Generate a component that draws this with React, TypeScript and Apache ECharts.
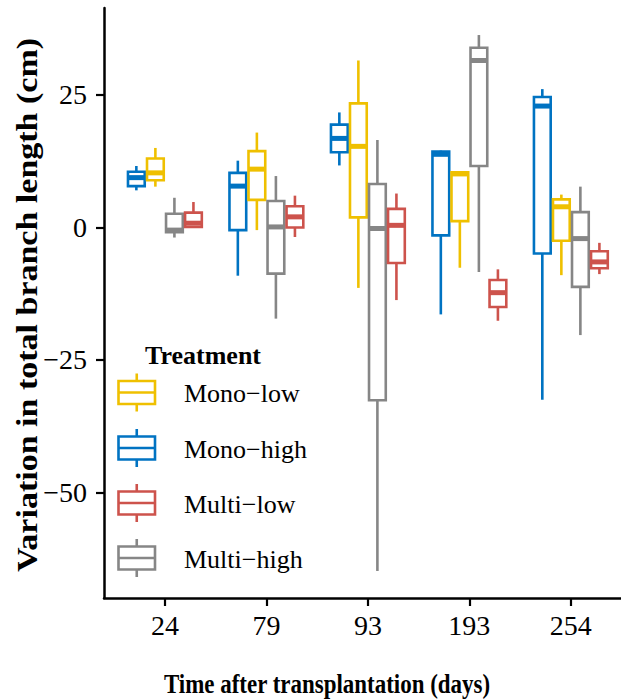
import React, { useEffect, useRef } from "react";
import * as echarts from "echarts";

// Categories (days after transplantation)
const days = ["24", "79", "93", "193", "254"];
const yTicks = [-50, -25, 0, 25];

// Box stats per treatment: [min, Q1, median, Q3, max] for each day
const monoHigh = [
  [7.0, 7.8, 9.4, 10.5, 11.6],
  [-9.1, -0.5, 7.8, 10.3, 12.6],
  [11.7, 14.2, 16.8, 19.4, 21.7],
  [-16.4, -1.5, 13.8, 14.3, 14.5],
  [-32.5, -4.9, 22.9, 24.6, 26.1],
];
const monoLow = [
  [7.7, 8.9, 10.3, 13.0, 15.0],
  [-0.5, 5.2, 11.0, 14.4, 17.9],
  [-11.4, 1.9, 15.3, 23.4, 31.5],
  [-7.6, 1.2, 10.1, 10.4, 10.5],
  [-9.0, -2.5, 3.9, 5.3, 6.2],
];
const multiHigh = [
  [-1.9, -0.9, -0.5, 2.6, 5.6],
  [-17.2, -8.7, 0.1, 5.0, 9.7],
  [-64.8, -32.6, -0.2, 8.2, 16.5],
  [-8.4, 11.6, 31.5, 33.9, 36.3],
  [-20.3, -11.2, -2.1, 2.9, 7.7],
];
const multiLow = [
  [0.1, 0.1, 0.8, 2.8, 4.8],
  [-1.8, 0.0, 2.0, 4.0, 6.0],
  [-13.7, -6.7, 0.4, 3.5, 6.4],
  [-17.6, -15.0, -12.3, -9.9, -7.9],
  [-8.8, -7.7, -6.5, -4.5, -2.9],
];

// Plot (dodge) order and legend order
const plotOrder = [
  { name: "Mono−high", data: monoHigh, color: "#0073C2" },
  { name: "Mono−low", data: monoLow, color: "#EFC000" },
  { name: "Multi−high", data: multiHigh, color: "#868686" },
  { name: "Multi−low", data: multiLow, color: "#CD534C" },
];
const legendOrder = ["Mono−low", "Mono−high", "Multi−low", "Multi−high"];

const SLOT = 0.1875;
const BOX = 0.165;
const LW = 2.6;
const MLW = 5;
const FONT = "'Liberation Serif', 'Times New Roman', serif";

function makeRender(idx: number, color: string) {
  return (_params: any, api: any) => {
    const cat = api.value(0);
    const cx = cat + (idx - 1.5) * SLOT;
    const xl = api.coord([cx - BOX / 2, 0])[0];
    const xr = api.coord([cx + BOX / 2, 0])[0];
    const xc = api.coord([cx, 0])[0];
    const yMin = api.coord([cx, api.value(1)])[1];
    const yQ1 = api.coord([cx, api.value(2)])[1];
    const yMed = api.coord([cx, api.value(3)])[1];
    const yQ3 = api.coord([cx, api.value(4)])[1];
    const yMax = api.coord([cx, api.value(5)])[1];
    return {
      type: "group",
      children: [
        { type: "line", shape: { x1: xc, y1: yMax, x2: xc, y2: yQ3 }, style: { stroke: color, lineWidth: LW } },
        { type: "line", shape: { x1: xc, y1: yQ1, x2: xc, y2: yMin }, style: { stroke: color, lineWidth: LW } },
        {
          type: "rect",
          shape: { x: xl, y: yQ3, width: xr - xl, height: yQ1 - yQ3 },
          style: { fill: "#ffffff", stroke: color, lineWidth: LW },
        },
        { type: "line", shape: { x1: xl, y1: yMed, x2: xr, y2: yMed }, style: { stroke: color, lineWidth: MLW } },
      ],
    };
  };
}

function legendGraphics() {
  const centers = [392.5, 448, 503, 558];
  const kx0 = 118.5;
  const kw = 36.5;
  const kh = 23;
  const wl = 7.5;
  const items: any[] = [
    {
      type: "text",
      x: 145,
      y: 355,
      style: { text: "Treatment", font: `bold 26px ${FONT}`, fill: "#000", align: "left", verticalAlign: "middle" },
    },
  ];
  legendOrder.forEach((name, i) => {
    const s = plotOrder.find((p) => p.name === name)!;
    const cy = centers[i];
    const kc = kx0 + kw / 2;
    items.push(
      { type: "line", shape: { x1: kc, y1: cy - kh / 2 - wl, x2: kc, y2: cy - kh / 2 }, style: { stroke: s.color, lineWidth: LW } },
      { type: "line", shape: { x1: kc, y1: cy + kh / 2, x2: kc, y2: cy + kh / 2 + wl }, style: { stroke: s.color, lineWidth: LW } },
      { type: "rect", shape: { x: kx0, y: cy - kh / 2, width: kw, height: kh }, style: { fill: "#fff", stroke: s.color, lineWidth: LW } },
      { type: "line", shape: { x1: kx0, y1: cy, x2: kx0 + kw, y2: cy }, style: { stroke: s.color, lineWidth: LW } },
      {
        type: "text",
        x: 184,
        y: cy + 1,
        style: { text: name, font: `26px ${FONT}`, fill: "#000", align: "left", verticalAlign: "middle" },
      }
    );
  });
  return items;
}

export default function App() {
  const ref = useRef<HTMLDivElement>(null);
  useEffect(() => {
    if (!ref.current) return;
    const chart = echarts.init(ref.current, undefined, { renderer: "svg" });
    const series = plotOrder.map((s, idx) => ({
      type: "custom",
      name: s.name,
      data: s.data.map((v, i) => [i + 1, ...v]),
      encode: { x: 0, y: [1, 2, 3, 4, 5] },
      renderItem: makeRender(idx, s.color),
      z: 2,
    }));
    chart.setOption({
      animation: false,
      backgroundColor: "#ffffff",
      grid: { left: 104, right: 0, top: 8, bottom: 102, containLabel: false },
      xAxis: {
        type: "value",
        min: 0.4,
        max: 5.494,
        splitLine: { show: false },
        axisLine: { show: true, onZero: false, lineStyle: { color: "#000", width: 2.5 } },
        axisTick: { show: true, customValues: [1, 2, 3, 4, 5], length: 8, lineStyle: { color: "#000", width: 2.2 } },
        axisLabel: {
          customValues: [1, 2, 3, 4, 5],
          formatter: (v: number) => days[Math.round(v) - 1] ?? "",
          fontFamily: FONT,
          fontSize: 28,
          color: "#000",
          margin: 13,
        },
      },
      yAxis: {
        type: "value",
        min: -69.9,
        max: 41.4,
        splitLine: { show: false },
        axisLine: { show: true, onZero: false, lineStyle: { color: "#000", width: 2.5 } },
        axisTick: { show: true, customValues: yTicks, length: 8, lineStyle: { color: "#000", width: 2.2 } },
        axisLabel: {
          customValues: yTicks,
          formatter: (v: number) => String(v).replace("-", "−"),
          fontFamily: FONT,
          fontSize: 28,
          color: "#000",
          margin: 17,
        },
      },
      graphic: [
        {
          type: "text",
          x: 327,
          y: 684,
          scaleX: 0.82,
          style: {
            text: "Time after transplantation (days)",
            font: `bold 28px ${FONT}`,
            fill: "#000",
            align: "center",
            verticalAlign: "middle",
          },
        },
        {
          type: "text",
          x: 27,
          y: 305,
          rotation: Math.PI / 2,
          scaleY: 0.85,
          style: {
            text: "Variation in total branch length (cm)",
            font: `bold 34px ${FONT}`,
            fill: "#000",
            align: "center",
            verticalAlign: "middle",
          },
        },
        ...legendGraphics(),
      ],
      series,
    });
    return () => chart.dispose();
  }, []);
  return <div ref={ref} style={{ position: "absolute", left: 0, top: 0, width: 621, height: 700 }} />;
}
